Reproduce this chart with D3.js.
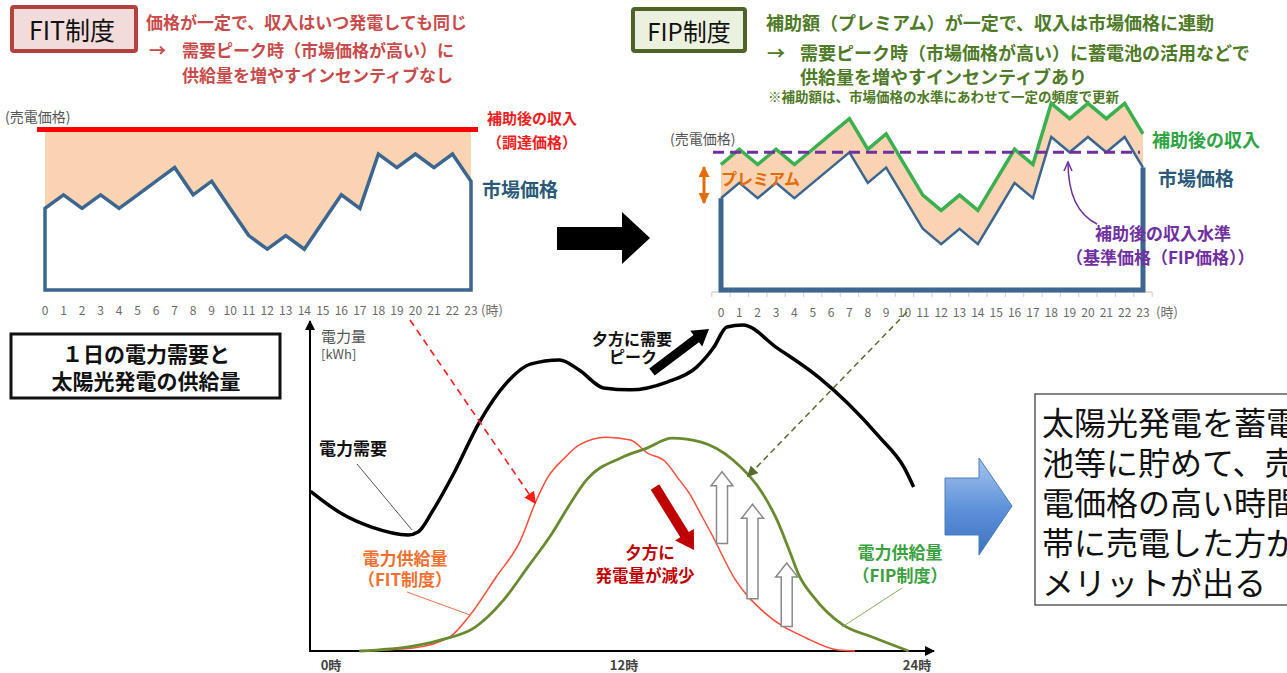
<!DOCTYPE html>
<html>
<head>
<meta charset="utf-8">
<script src="https://cdn.jsdelivr.net/npm/d3@7"></script>
<style>
body { margin: 0; background: #fff; }
svg { display: block; }
text { font-family: "Noto Sans CJK JP", "Noto Sans", sans-serif; }
</style>
</head>
<body>
<svg id="chart" width="1287" height="673"></svg>
<script>
// ---- data ----
const hourLabels = ["0","1","2","3","4","5","6","7","8","9","10","11","12","13","14","15","16","17","18","19","20","21","22","23"];
const marketPrice = [6,7,6,7,6,7,8,9,7,8,6,4,3,4,3,5,7,6,10,9,10,9,10,8];
const fitPrice = 11.8;      // 調達価格 (flat)
const fipPremium = 2.2;     // プレミアム
const fipBasePrice = 9;     // 基準価格

const demandHour = [-1.0, 0.3, 1.5, 3.0, 3.4, 4.0, 4.9, 5.9, 7.0, 8.0, 9.2, 10.0, 11.0, 12.1, 13.6, 14.8, 15.5, 16.05, 16.7, 18.1, 19.8, 21.0, 22.3, 23.3, 23.7];
const demandKwh  = [49, 42, 38, 35.6, 36.5, 43, 55, 70, 82, 88, 89.3, 86.2, 80.7, 80.1, 82.5, 87, 93, 99.4, 100, 93, 84, 76, 65.6, 56.4, 50.3];

const fitSupplyHour = [1.0, 3.2, 4.7, 5.5, 6.6, 7.6, 8.2, 8.7, 9.4, 10.0, 11.1, 12.1, 12.8, 13.5, 14.1, 14.5, 15.0, 15.4, 16.4, 17.6, 19.3, 20.6, 21.3];
const fitSupplyKwh  = [0, 0.9, 4.3, 10.7, 22.7, 34.0, 45.4, 53.1, 59.2, 63.2, 65.6, 64.7, 60.7, 58.3, 52.5, 48.5, 41.7, 36.2, 21.8, 11.7, 4.0, 0.3, 0];

const fipSupplyHour = [1.0, 3.2, 4.5, 5.7, 6.9, 7.9, 8.9, 9.6, 10.3, 11.7, 12.8, 13.8, 15.0, 16.3, 17.5, 18.1, 18.6, 19.0, 19.6, 20.8, 22.0, 23.5];
const fipSupplyKwh  = [0, 1.5, 3.7, 7.1, 15.6, 25.8, 36.2, 44.8, 52.5, 59.2, 62.3, 65.3, 64.1, 58.6, 48.5, 40.2, 31.0, 23.3, 16.6, 8.0, 4.3, 0];

const timeTicks = [0, 12, 24];
const timeTickLabels = ["0時", "12時", "24時"];

// shift arrows (storage moves output later)
const shiftHour = [15.85, 17.1, 18.5];
const shiftFrom = [33, 16, 7.5];
const shiftTo   = [55, 45, 27];

const svg = d3.select("#chart");
const defs = svg.append("defs");

function marker(id, color, w, h) {
    defs.append("marker")
        .attr("id", id)
        .attr("viewBox", "0 0 10 10")
        .attr("refX", 9).attr("refY", 5)
        .attr("markerUnits", "userSpaceOnUse")
        .attr("markerWidth", w).attr("markerHeight", h)
        .attr("orient", "auto-start-reverse")
        .append("path")
        .attr("d", "M0,0 L10,5 L0,10 z")
        .attr("fill", color);
}
marker("arrBlack", "#000", 10, 10);
marker("arrRed", "#ff1a1a", 12, 12);
marker("arrGreen", "#5b6b2e", 11, 11);
marker("arrOrange", "#e36c09", 11, 11);
defs.append("marker")
    .attr("id", "arrPurple")
    .attr("viewBox", "0 0 10 10")
    .attr("refX", 9).attr("refY", 5)
    .attr("markerUnits", "userSpaceOnUse")
    .attr("markerWidth", 10).attr("markerHeight", 10)
    .attr("orient", "auto")
    .append("path")
    .attr("d", "M0,1 L9,5 L0,9")
    .attr("fill", "none")
    .attr("stroke", "#7030a0")
    .attr("stroke-width", 1.5);

const grad = defs.append("linearGradient").attr("id", "blueGrad")
    .attr("x1", 0).attr("y1", 0).attr("x2", 0).attr("y2", 1);
grad.append("stop").attr("offset", "0%").attr("stop-color", "#a7c5ee");
grad.append("stop").attr("offset", "55%").attr("stop-color", "#5a8fd8");
grad.append("stop").attr("offset", "100%").attr("stop-color", "#3f72c0");

function fatArrow(x1, y1, x2, y2, sw, hw, hl) {
    const dx = x2 - x1, dy = y2 - y1, L = Math.hypot(dx, dy);
    const ux = dx / L, uy = dy / L, px = -uy, py = ux;
    const bx = x2 - ux * hl, by = y2 - uy * hl;
    return [[x1 + px * sw / 2, y1 + py * sw / 2], [bx + px * sw / 2, by + py * sw / 2],
            [bx + px * hw / 2, by + py * hw / 2], [x2, y2],
            [bx - px * hw / 2, by - py * hw / 2], [bx - px * sw / 2, by - py * sw / 2],
            [x1 - px * sw / 2, y1 - py * sw / 2]];
}

function txt(x, y, s, size, color, weight, anchor) {
    return svg.append("text")
        .attr("x", x).attr("y", y)
        .attr("dominant-baseline", "central")
        .attr("text-anchor", anchor || "start")
        .attr("font-size", size)
        .attr("font-weight", weight || "normal")
        .attr("fill", color)
        .text(s);
}

// ---- headers ----
svg.append("rect").attr("x", 12).attr("y", 7).attr("width", 124).attr("height", 44)
    .attr("fill", "#f2dcdb").attr("stroke", "#b5413e").attr("stroke-width", 4).attr("rx", 2);
txt(72, 29, "FIT制度", 25, "#111", "normal", "middle");
const fitRed = "#c84b4b";
txt(146, 21, "価格が一定で、収入はいつ発電しても同じ", 17, fitRed, "bold");
txt(149, 49, "→", 17, fitRed, "bold");
txt(182, 49, "需要ピーク時（市場価格が高い）に", 17, fitRed, "bold");
txt(182, 74, "供給量を増やすインセンティブなし", 17, fitRed, "bold");

svg.append("rect").attr("x", 633).attr("y", 9).attr("width", 112).attr("height", 42)
    .attr("fill", "#ebf1de").attr("stroke", "#4f6228").attr("stroke-width", 4).attr("rx", 2);
txt(689, 30, "FIP制度", 24, "#111", "normal", "middle");
const fipGreen = "#4f7a28";
txt(766, 22, "補助額（プレミアム）が一定で、収入は市場価格に連動", 18, fipGreen, "bold");
txt(767, 52, "→", 18, fipGreen, "bold");
txt(800, 52, "需要ピーク時（市場価格が高い）に蓄電池の活用などで", 18, fipGreen, "bold");
txt(800, 76, "供給量を増やすインセンティブあり", 18, fipGreen, "bold");
txt(768, 96, "※補助額は、市場価格の水準にあわせて一定の頻度で更新", 13.5, fipGreen, "bold");

// ---- FIT chart ----
const xFit = d3.scaleLinear().domain([0, 23]).range([45, 471]);
const yFit = d3.scaleLinear().domain([0, 10]).range([290, 154]);
const blue = "#3c6590";

svg.append("path")
    .datum(marketPrice)
    .attr("fill", "#f9d3b2")
    .attr("d", d3.area().x((d, i) => xFit(i)).y0(d => yFit(d)).y1(yFit(fitPrice)));

const fitPoly = [[0, 0]].concat(marketPrice.map((d, i) => [i, d])).concat([[23, 0]]);
svg.append("path")
    .datum(fitPoly)
    .attr("fill", "#fff")
    .attr("stroke", blue)
    .attr("stroke-width", 3.5)
    .attr("d", d3.line().x(d => xFit(d[0])).y(d => yFit(d[1])).curve(d3.curveLinearClosed));

svg.append("line")
    .attr("x1", xFit(0) - 8).attr("x2", xFit(23) + 7)
    .attr("y1", yFit(fitPrice)).attr("y2", yFit(fitPrice))
    .attr("stroke", "#ff0000").attr("stroke-width", 5);

svg.append("g").selectAll("text").data(hourLabels).enter().append("text")
    .attr("x", (d, i) => xFit(i)).attr("y", 309)
    .attr("dominant-baseline", "central").attr("text-anchor", "middle")
    .attr("font-size", 12).attr("fill", "#6b6b6b").text(d => d);
txt(481, 309, "(時)", 13, "#6b6b6b");
txt(5, 116, "(売電価格)", 14, "#555");
txt(487, 117, "補助後の収入", 15, "#ee1c1c", "bold");
txt(487, 141, "（調達価格）", 15, "#ee1c1c", "bold");
txt(482, 188, "市場価格", 19, "#2b5a78", "bold");

// ---- big black arrow ----
svg.append("polygon")
    .attr("points", "557,227 622,227 622,212 650,238 622,264 622,250 557,250")
    .attr("fill", "#000");

// ---- FIP chart ----
const xFip = d3.scaleLinear().domain([0, 23]).range([721, 1143]);
const yFip = d3.scaleLinear().domain([0, 10]).range([290, 137]);

svg.append("line").attr("x1", xFip(-0.5)).attr("x2", xFip(23.5)).attr("y1", 292).attr("y2", 292)
    .attr("stroke", "#d4d4d4").attr("stroke-width", 1.5);
svg.append("g").selectAll("line").data(d3.range(25)).enter().append("line")
    .attr("x1", d => xFip(d - 0.5)).attr("x2", d => xFip(d - 0.5))
    .attr("y1", 292).attr("y2", 297).attr("stroke", "#d4d4d4").attr("stroke-width", 1.2);

svg.append("path")
    .datum(marketPrice)
    .attr("fill", "#f9d3b2")
    .attr("d", d3.area().x((d, i) => xFip(i)).y0(d => yFip(d)).y1(d => yFip(d + fipPremium)));

svg.append("path")
    .datum([[0, marketPrice[0]], [0, 0], [23, 0], [23, marketPrice[23]]])
    .attr("fill", "none").attr("stroke", blue).attr("stroke-width", 5)
    .attr("d", d3.line().x(d => xFip(d[0])).y(d => yFip(d[1])));
svg.append("path")
    .datum(marketPrice)
    .attr("fill", "none").attr("stroke", blue).attr("stroke-width", 2.5)
    .attr("d", d3.line().x((d, i) => xFip(i)).y(d => yFip(d)));
svg.append("path")
    .datum(marketPrice)
    .attr("fill", "none").attr("stroke", "#3bb04e").attr("stroke-width", 3.5)
    .attr("d", d3.line().x((d, i) => xFip(i)).y(d => yFip(d + fipPremium)));
svg.append("line")
    .attr("x1", xFip(0) - 8).attr("x2", xFip(23) - 3)
    .attr("y1", yFip(fipBasePrice)).attr("y2", yFip(fipBasePrice))
    .attr("stroke", "#7030a0").attr("stroke-width", 3).attr("stroke-dasharray", "11,6");

svg.append("g").selectAll("text").data(hourLabels).enter().append("text")
    .attr("x", (d, i) => xFip(i)).attr("y", 311)
    .attr("dominant-baseline", "central").attr("text-anchor", "middle")
    .attr("font-size", 12).attr("fill", "#6b6b6b").text(d => d);
txt(1156, 311, "(時)", 13, "#6b6b6b");
txt(670, 138, "(売電価格)", 14, "#555");
txt(1152, 139, "補助後の収入", 18, "#30a444", "bold");
txt(1158, 177, "市場価格", 19, "#2b5a78", "bold");
txt(721, 178, "プレミアム", 16, "#e36c09", "bold");
svg.append("line").attr("x1", 704).attr("x2", 704).attr("y1", 167).attr("y2", 203)
    .attr("stroke", "#e36c09").attr("stroke-width", 3)
    .attr("marker-start", "url(#arrOrange)").attr("marker-end", "url(#arrOrange)");
svg.append("path")
    .attr("d", "M1097,224 Q1068,210 1068,162")
    .attr("fill", "none").attr("stroke", "#7030a0").attr("stroke-width", 1.5)
    .attr("marker-end", "url(#arrPurple)");
txt(1095, 232, "補助後の収入水準", 17, "#7030a0", "bold");
txt(1066, 256, "（基準価格（FIP価格））", 17, "#7030a0", "bold");

// ---- bottom chart ----
const xT = d3.scaleLinear().domain([0, 24]).range([335, 921]);
const yT = d3.scaleLinear().domain([0, 100]).range([651, 325]);

svg.append("rect").attr("x", 11).attr("y", 334).attr("width", 269).attr("height", 64)
    .attr("fill", "#fff").attr("stroke", "#111").attr("stroke-width", 3);
txt(146, 353, "１日の電力需要と", 21, "#111", "bold", "middle");
txt(146, 380, "太陽光発電の供給量", 21, "#111", "bold", "middle");

svg.append("line").attr("x1", 310).attr("y1", 652).attr("x2", 310).attr("y2", 321)
    .attr("stroke", "#000").attr("stroke-width", 2).attr("marker-end", "url(#arrBlack)");
svg.append("line").attr("x1", 309).attr("y1", 651).attr("x2", 934).attr("y2", 651)
    .attr("stroke", "#000").attr("stroke-width", 2).attr("marker-end", "url(#arrBlack)");
txt(321, 335, "電力量", 15, "#555");
txt(321, 353, "[kWh]", 13, "#555");
svg.append("g").selectAll("text").data(timeTicks).enter().append("text")
    .attr("x", d => xT(d) - 4).attr("y", 664)
    .attr("dominant-baseline", "central").attr("text-anchor", "middle")
    .attr("font-size", 13).attr("font-weight", "bold").attr("fill", "#444")
    .text((d, i) => timeTickLabels[i]);

const curve = (hs, vs) => d3.line().x((d, i) => xT(hs[i])).y(d => yT(d)).curve(d3.curveMonotoneX)(vs);
svg.append("path").attr("d", curve(fitSupplyHour, fitSupplyKwh))
    .attr("fill", "none").attr("stroke", "#ff4b3a").attr("stroke-width", 1.5);
svg.append("path").attr("d", curve(fipSupplyHour, fipSupplyKwh))
    .attr("fill", "none").attr("stroke", "#6a8a30").attr("stroke-width", 2.8);
svg.append("path").attr("d", curve(demandHour, demandKwh))
    .attr("fill", "none").attr("stroke", "#000").attr("stroke-width", 3.5);

// hollow shift arrows
shiftHour.forEach((h, i) => {
    svg.append("polygon")
        .attr("points", fatArrow(xT(h), yT(shiftFrom[i]), xT(h), yT(shiftTo[i]), 11, 22, 14).join(" "))
        .attr("fill", "#fff").attr("stroke", "#8a8a8a").attr("stroke-width", 1.5);
});

// labels and leaders
txt(319, 447, "電力需要", 17, "#111", "bold");
svg.append("line").attr("x1", 357).attr("y1", 464).attr("x2", 412).attr("y2", 530)
    .attr("stroke", "#555").attr("stroke-width", 1);
txt(405, 557, "電力供給量", 17, "#f07030", "bold", "middle");
txt(405, 578, "（FIT制度）", 17, "#f07030", "bold", "middle");
svg.append("line").attr("x1", 407).attr("y1", 592).attr("x2", 470).attr("y2", 615)
    .attr("stroke", "#f07050").attr("stroke-width", 1);
txt(900, 551, "電力供給量", 17, "#3aa040", "bold", "middle");
txt(900, 574, "（FIP制度）", 17, "#3aa040", "bold", "middle");
svg.append("line").attr("x1", 842).attr("y1", 627).attr("x2", 902).attr("y2", 588)
    .attr("stroke", "#8ab060").attr("stroke-width", 1);

txt(632, 338, "夕方に需要", 16, "#111", "bold", "middle");
txt(633, 356, "ピーク", 16, "#111", "bold", "middle");
svg.append("polygon").attr("points", fatArrow(652, 372, 709, 329, 9, 20, 16).join(" ")).attr("fill", "#000");

svg.append("polygon").attr("points", fatArrow(655, 487, 694, 550, 10, 22, 18).join(" ")).attr("fill", "#c00000");
txt(650, 552, "夕方に", 16.5, "#c00000", "bold", "middle");
txt(645, 575, "発電量が減少", 16.5, "#c00000", "bold", "middle");

// dashed pointer arrows from the price charts
const fitAt = d3.scaleLinear().domain(fitSupplyHour).range(fitSupplyKwh);
const fipAt = d3.scaleLinear().domain(fipSupplyHour).range(fipSupplyKwh);
svg.append("line").attr("x1", 410).attr("y1", 320).attr("x2", xT(8.2)).attr("y2", yT(fitAt(8.2)))
    .attr("stroke", "#ff1a1a").attr("stroke-width", 1.6).attr("stroke-dasharray", "7,5")
    .attr("marker-end", "url(#arrRed)");
svg.append("line").attr("x1", 907).attr("y1", 312).attr("x2", xT(16.9)).attr("y2", yT(fipAt(16.9)))
    .attr("stroke", "#5b6b2e").attr("stroke-width", 1.5).attr("stroke-dasharray", "6,4")
    .attr("marker-end", "url(#arrGreen)");

// blue arrow and message box
svg.append("polygon")
    .attr("points", "945,478 979,478 979,458 1012,506 979,555 979,535 945,535")
    .attr("fill", "url(#blueGrad)").attr("stroke", "#4a7ebb").attr("stroke-width", 1);
svg.append("rect").attr("x", 1035).attr("y", 394).attr("width", 260).attr("height", 211)
    .attr("fill", "#fff").attr("stroke", "#333").attr("stroke-width", 1.2);
const msg = ["太陽光発電を蓄電", "池等に貯めて、売", "電価格の高い時間", "帯に売電した方が", "メリットが出る"];
msg.forEach((s, i) => txt(1042, 421 + i * 40, s, 32, "#111"));
</script>
</body>
</html>
